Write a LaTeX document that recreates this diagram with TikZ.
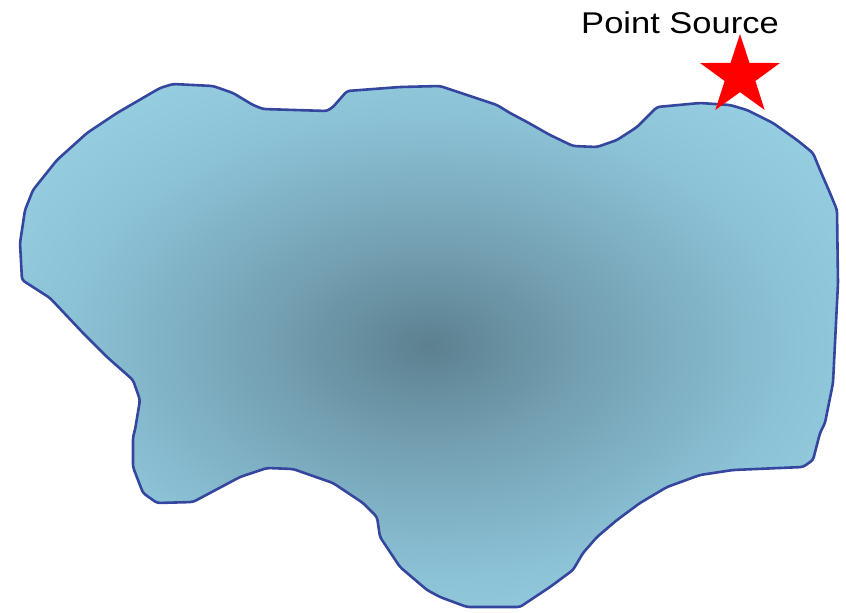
\documentclass[tikz,border=0pt]{standalone}
\usepackage{fontspec}
\newfontfamily\labelfont[FakeStretch=1.15]{Liberation Sans}
\usetikzlibrary{shapes.geometric}
\definecolor{plumecore}{RGB}{92,128,144}
\definecolor{plumemid}{RGB}{114,158,176}
\definecolor{plumelight}{RGB}{140,194,214}
\definecolor{plumeedge}{RGB}{162,220,238}
\definecolor{plumeline}{RGB}{52,70,158}
\pgfdeclareradialshading{plume}{\pgfpoint{0bp}{0bp}}{color(0bp)=(plumecore); color(9bp)=(plumemid); color(22bp)=(plumelight); color(40bp)=(plumeedge); color(50bp)=(plumeedge)}
\newcommand{\plumepath}{(173,84) -- (213,86) -- (233,93) -- (253,105) -- (263,109) -- (327,111) -- (333,107) -- (347,91) -- (400,87) -- (440,86) -- (467,95) -- (497,105) -- (510,113) -- (527,122) -- (550,135) -- (573,146) -- (597,147) -- (617,140) -- (637,127) -- (657,107) -- (700,103) -- (730,105) -- (747,110) -- (773,123) -- (797,140) -- (813,153) -- (820,170) -- (830,193) -- (837,210) -- (838,283) -- (833,383) -- (825,423) -- (820,433) -- (813,460) -- (803,467) -- (733,470) -- (700,475) -- (667,487) -- (640,503) -- (617,520) -- (597,537) -- (583,553) -- (573,570) -- (550,587) -- (520,607) -- (467,607) -- (440,597) -- (427,590) -- (400,567) -- (380,537) -- (377,517) -- (363,503) -- (333,483) -- (293,469) -- (267,468) -- (240,477) -- (193,502) -- (157,503) -- (143,493) -- (133,467) -- (133,437) -- (135,430) -- (140,400) -- (133,380) -- (107,357) -- (83,333) -- (50,298) -- (22,280) -- (20,243) -- (25,210) -- (33,190) -- (57,160) -- (87,133) -- (117,113) -- (160,88) -- cycle}

\begin{document}
\begin{tikzpicture}[x=1pt, y=-1pt]
    \useasboundingbox (0,0) rectangle (846,613);
    % plume
    \shade[shading=plume, draw=plumeline, line width=2.6pt, rounded corners=3pt] \plumepath;
    % source
    \node[star, star points=5, star point ratio=2.6, fill=red, minimum size=84pt, inner sep=0pt] (source) at (740,76) {};
    \node[font=\labelfont\fontsize{30}{36}\selectfont] (sourcelabel) at (680,23) {Point Source};
\end{tikzpicture}
\end{document}
